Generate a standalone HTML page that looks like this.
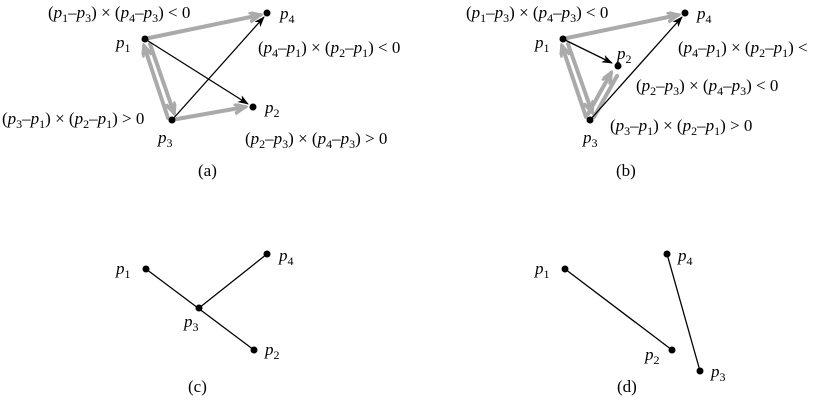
<!DOCTYPE html>
<html><head><meta charset="utf-8"><style>
html,body{margin:0;padding:0;background:#fff;}
svg{display:block;}
text{font-family:"Liberation Serif",serif;font-size:17px;fill:#000;}
.i{font-style:italic;}
</style></head><body>
<svg width="818" height="401" viewBox="0 0 818 401">
<defs>
<marker id="ab" markerWidth="12" markerHeight="10" refX="10" refY="4" orient="auto" markerUnits="userSpaceOnUse"><path d="M0,0 L11,4 L0,8 L3,4 z" fill="#000"/></marker>
<marker id="ag" markerWidth="14" markerHeight="12" refX="11" refY="5" orient="auto" markerUnits="userSpaceOnUse"><path d="M0,0 L11,5 L0,10" fill="none" stroke="#aaa" stroke-width="3.5"/></marker>
</defs>
<g stroke="#aaa" stroke-width="4" fill="none" stroke-linecap="round">
<!-- (a) -->
<line x1="149" y1="38" x2="260" y2="15" marker-end="url(#ag)"/>
<line x1="150" y1="44" x2="174" y2="113" marker-end="url(#ag)"/>
<line x1="168" y1="118" x2="144" y2="46" marker-end="url(#ag)"/>
<line x1="177" y1="119" x2="245" y2="107" marker-end="url(#ag)"/>
<!-- (b) -->
<line x1="567" y1="38" x2="678" y2="15" marker-end="url(#ag)"/>
<line x1="568" y1="44" x2="592" y2="112" marker-end="url(#ag)"/>
<line x1="586" y1="117" x2="562" y2="46" marker-end="url(#ag)"/>
<line x1="588" y1="114" x2="611" y2="73" marker-end="url(#ag)"/>
<line x1="594" y1="117" x2="617" y2="76"/>
</g>
<g stroke="#000" stroke-width="1.3">
<line x1="145" y1="39" x2="248" y2="104" marker-end="url(#ab)"/>
<line x1="172" y1="120" x2="264" y2="17" marker-end="url(#ab)"/>
<line x1="563" y1="39" x2="612" y2="63" marker-end="url(#ab)"/>
<line x1="590" y1="120" x2="682" y2="17" marker-end="url(#ab)"/>
<line x1="146" y1="269" x2="254" y2="350"/>
<line x1="199" y1="308" x2="267" y2="254"/>
<line x1="565" y1="269" x2="672" y2="350"/>
<line x1="667" y1="254" x2="700" y2="371"/>
</g>
<g fill="#000">
<circle cx="145" cy="39" r="3.5"/><circle cx="267" cy="13" r="3.5"/><circle cx="253" cy="107" r="3.5"/><circle cx="172" cy="120" r="3.5"/>
<circle cx="563" cy="39" r="3.5"/><circle cx="685" cy="13" r="3.5"/><circle cx="618" cy="66" r="3.5"/><circle cx="590" cy="120" r="3.5"/>
<circle cx="146" cy="269" r="3.5"/><circle cx="267" cy="254" r="3.5"/><circle cx="199" cy="308" r="3.5"/><circle cx="254" cy="350" r="3.5"/>
<circle cx="565" cy="269" r="3.5"/><circle cx="667" cy="254" r="3.5"/><circle cx="672" cy="350" r="3.5"/><circle cx="700" cy="371" r="3.5"/>
</g>
<!-- labels a -->
<text x="48" y="18">(<tspan class="i">p</tspan><tspan font-size="12" dy="4">1</tspan><tspan dy="-4">–</tspan><tspan class="i">p</tspan><tspan font-size="12" dy="4">3</tspan><tspan dy="-4">) × (</tspan><tspan class="i">p</tspan><tspan font-size="12" dy="4">4</tspan><tspan dy="-4">–</tspan><tspan class="i">p</tspan><tspan font-size="12" dy="4">3</tspan><tspan dy="-4">) &lt; 0</tspan></text>
<text x="280" y="19"><tspan class="i">p</tspan><tspan font-size="12" dy="4">4</tspan></text>
<text x="116" y="48"><tspan class="i">p</tspan><tspan font-size="12" dy="4">1</tspan></text>
<text x="258" y="53">(<tspan class="i">p</tspan><tspan font-size="12" dy="4">4</tspan><tspan dy="-4">–</tspan><tspan class="i">p</tspan><tspan font-size="12" dy="4">1</tspan><tspan dy="-4">) × (</tspan><tspan class="i">p</tspan><tspan font-size="12" dy="4">2</tspan><tspan dy="-4">–</tspan><tspan class="i">p</tspan><tspan font-size="12" dy="4">1</tspan><tspan dy="-4">) &lt; 0</tspan></text>
<text x="2" y="124">(<tspan class="i">p</tspan><tspan font-size="12" dy="4">3</tspan><tspan dy="-4">–</tspan><tspan class="i">p</tspan><tspan font-size="12" dy="4">1</tspan><tspan dy="-4">) × (</tspan><tspan class="i">p</tspan><tspan font-size="12" dy="4">2</tspan><tspan dy="-4">–</tspan><tspan class="i">p</tspan><tspan font-size="12" dy="4">1</tspan><tspan dy="-4">) &gt; 0</tspan></text>
<text x="265" y="113"><tspan class="i">p</tspan><tspan font-size="12" dy="4">2</tspan></text>
<text x="158" y="143"><tspan class="i">p</tspan><tspan font-size="12" dy="4">3</tspan></text>
<text x="245" y="144">(<tspan class="i">p</tspan><tspan font-size="12" dy="4">2</tspan><tspan dy="-4">–</tspan><tspan class="i">p</tspan><tspan font-size="12" dy="4">3</tspan><tspan dy="-4">) × (</tspan><tspan class="i">p</tspan><tspan font-size="12" dy="4">4</tspan><tspan dy="-4">–</tspan><tspan class="i">p</tspan><tspan font-size="12" dy="4">3</tspan><tspan dy="-4">) &gt; 0</tspan></text>
<text x="198" y="176">(a)</text>
<!-- labels b -->
<text x="466" y="18">(<tspan class="i">p</tspan><tspan font-size="12" dy="4">1</tspan><tspan dy="-4">–</tspan><tspan class="i">p</tspan><tspan font-size="12" dy="4">3</tspan><tspan dy="-4">) × (</tspan><tspan class="i">p</tspan><tspan font-size="12" dy="4">4</tspan><tspan dy="-4">–</tspan><tspan class="i">p</tspan><tspan font-size="12" dy="4">3</tspan><tspan dy="-4">) &lt; 0</tspan></text>
<text x="697" y="19"><tspan class="i">p</tspan><tspan font-size="12" dy="4">4</tspan></text>
<text x="535" y="48"><tspan class="i">p</tspan><tspan font-size="12" dy="4">1</tspan></text>
<text x="617" y="59"><tspan class="i">p</tspan><tspan font-size="12" dy="4">2</tspan></text>
<text x="678" y="53">(<tspan class="i">p</tspan><tspan font-size="12" dy="4">4</tspan><tspan dy="-4">–</tspan><tspan class="i">p</tspan><tspan font-size="12" dy="4">1</tspan><tspan dy="-4">) × (</tspan><tspan class="i">p</tspan><tspan font-size="12" dy="4">2</tspan><tspan dy="-4">–</tspan><tspan class="i">p</tspan><tspan font-size="12" dy="4">1</tspan><tspan dy="-4">) &lt;</tspan></text>
<text x="636" y="91">(<tspan class="i">p</tspan><tspan font-size="12" dy="4">2</tspan><tspan dy="-4">–</tspan><tspan class="i">p</tspan><tspan font-size="12" dy="4">3</tspan><tspan dy="-4">) × (</tspan><tspan class="i">p</tspan><tspan font-size="12" dy="4">4</tspan><tspan dy="-4">–</tspan><tspan class="i">p</tspan><tspan font-size="12" dy="4">3</tspan><tspan dy="-4">) &lt; 0</tspan></text>
<text x="610" y="131">(<tspan class="i">p</tspan><tspan font-size="12" dy="4">3</tspan><tspan dy="-4">–</tspan><tspan class="i">p</tspan><tspan font-size="12" dy="4">1</tspan><tspan dy="-4">) × (</tspan><tspan class="i">p</tspan><tspan font-size="12" dy="4">2</tspan><tspan dy="-4">–</tspan><tspan class="i">p</tspan><tspan font-size="12" dy="4">1</tspan><tspan dy="-4">) &gt; 0</tspan></text>
<text x="583" y="143"><tspan class="i">p</tspan><tspan font-size="12" dy="4">3</tspan></text>
<text x="616" y="176">(b)</text>
<!-- c -->
<text x="116" y="274"><tspan class="i">p</tspan><tspan font-size="12" dy="4">1</tspan></text>
<text x="279" y="261"><tspan class="i">p</tspan><tspan font-size="12" dy="4">4</tspan></text>
<text x="184" y="327"><tspan class="i">p</tspan><tspan font-size="12" dy="4">3</tspan></text>
<text x="265" y="355"><tspan class="i">p</tspan><tspan font-size="12" dy="4">2</tspan></text>
<text x="188" y="392">(c)</text>
<!-- d -->
<text x="535" y="274"><tspan class="i">p</tspan><tspan font-size="12" dy="4">1</tspan></text>
<text x="678" y="261"><tspan class="i">p</tspan><tspan font-size="12" dy="4">4</tspan></text>
<text x="645" y="360"><tspan class="i">p</tspan><tspan font-size="12" dy="4">2</tspan></text>
<text x="711" y="377"><tspan class="i">p</tspan><tspan font-size="12" dy="4">3</tspan></text>
<text x="617" y="392">(d)</text>
</svg>
</body></html>
